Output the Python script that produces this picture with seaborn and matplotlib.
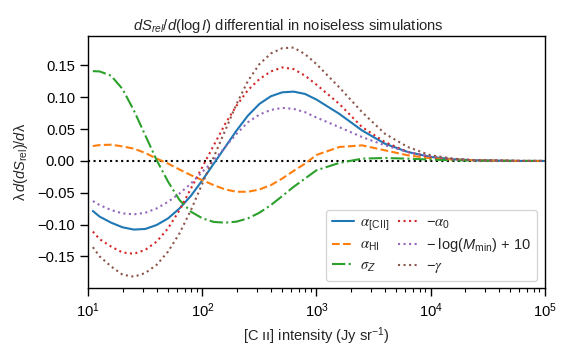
import numpy as np
import pandas as pd
import matplotlib
matplotlib.use("Agg")
import matplotlib.pyplot as plt
from matplotlib.ticker import LogLocator, NullFormatter
import seaborn as sns

log_intensity = [1.04, 1.1, 1.2, 1.3, 1.4, 1.5, 1.6, 1.7, 1.8, 1.9, 2.0, 2.1, 2.2, 2.3, 2.4,
                 2.5, 2.6, 2.7, 2.8, 2.9, 3.0, 3.2, 3.4, 3.6, 3.8, 4.0, 4.2, 4.4, 4.6, 4.8, 5.0]

alpha_cii = [-0.0786, -0.0875, -0.0969, -0.1042, -0.1078, -0.1068, -0.1005, -0.0901, -0.0745,
             -0.0547, -0.0302, -0.0042, 0.0219, 0.0479, 0.0714, 0.0896, 0.1016, 0.1078, 0.1089,
             0.1052, 0.0964, 0.0740, 0.0479, 0.0271, 0.0141, 0.0063, 0.0026, 0.0010, 0.0005, 0.0, 0.0]
alpha_hi = [0.0234, 0.0250, 0.0255, 0.0229, 0.0193, 0.0125, 0.0036, -0.0042, -0.0135, -0.0224,
            -0.0302, -0.0380, -0.0448, -0.0484, -0.0484, -0.0448, -0.0380, -0.0276, -0.0156,
            -0.0042, 0.0094, 0.0219, 0.0245, 0.0167, 0.0089, 0.0042, 0.0021, 0.0010, 0.0005, 0.0, 0.0]
sigma_z = [0.1411, 0.1406, 0.1339, 0.1130, 0.0792, 0.0401, 0.0010, -0.0328, -0.0615, -0.0797,
           -0.0901, -0.0958, -0.0969, -0.0953, -0.0901, -0.0813, -0.0693, -0.0552, -0.0406,
           -0.0276, -0.0146, -0.0031, 0.0036, 0.0047, 0.0036, 0.0021, 0.0010, 0.0005, 0.0, 0.0, 0.0]
neg_alpha0 = [-0.1109, -0.1229, -0.1344, -0.1438, -0.1458, -0.1396, -0.1266, -0.1057, -0.0771,
              -0.0432, -0.0094, 0.0245, 0.0583, 0.0870, 0.1115, 0.1286, 0.1406, 0.1469, 0.1443,
              0.1339, 0.1198, 0.0896, 0.0531, 0.0297, 0.0141, 0.0063, 0.0026, 0.0010, 0.0005, 0.0, 0.0]
neg_logmmin = [-0.0630, -0.0693, -0.0771, -0.0823, -0.0839, -0.0813, -0.0745, -0.0641, -0.0510,
               -0.0354, -0.0172, 0.0010, 0.0219, 0.0427, 0.0609, 0.0729, 0.0802, 0.0833, 0.0818,
               0.0766, 0.0682, 0.0531, 0.0375, 0.0245, 0.0141, 0.0073, 0.0031, 0.0010, 0.0005, 0.0, 0.0]
neg_gamma = [-0.1354, -0.1500, -0.1656, -0.1786, -0.1818, -0.1760, -0.1630, -0.1422, -0.1135,
             -0.0771, -0.0354, 0.0063, 0.0479, 0.0896, 0.1260, 0.1521, 0.1688, 0.1771, 0.1781,
             0.1677, 0.1521, 0.1156, 0.0766, 0.0427, 0.0219, 0.0089, 0.0036, 0.0010, 0.0005, 0.0, 0.0]

labels = [r"$\mathcal{\alpha}_{\rm [C\,II]}$", r"$\mathcal{\alpha}_{\rm HI}$", r"$\mathcal{\sigma}_Z$",
          r"$-\mathcal{\alpha}_0$", r"$-\;\log(M_{\rm min})\,+\,10$", r"$-\mathcal{\gamma}$"]

sns.set_style("ticks")
plt.rcParams["font.family"] = ["Liberation Sans", "DejaVu Sans"]
plt.rcParams["mathtext.fontset"] = "custom"
plt.rcParams["mathtext.rm"] = "Liberation Sans"
plt.rcParams["mathtext.it"] = "Liberation Sans:italic"
plt.rcParams["mathtext.bf"] = "Liberation Sans:bold"
plt.rcParams["mathtext.cal"] = "STIXGeneral:italic"
plt.rcParams["xtick.direction"] = "out"
plt.rcParams["ytick.direction"] = "out"

intensity = [10 ** v for v in log_intensity]
series = [alpha_cii, alpha_hi, sigma_z, neg_alpha0, neg_logmmin, neg_gamma]
pal = sns.color_palette("tab10")
colors = [pal[0], pal[1], pal[2], pal[3], pal[4], pal[5]]
styles = ["-", "--", "-.", ":", ":", ":"]

fig = plt.figure(figsize=(5.77, 3.54), dpi=100)
ax = fig.add_axes([0.153, 0.186, 0.791, 0.712])

for vals, lab, c, ls in zip(series, labels, colors, styles):
    df = pd.DataFrame({"I": intensity, "v": vals})
    sns.lineplot(data=df, x="I", y="v", ax=ax, color=c, linestyle=ls, lw=1.5, label=lab)

ax.axhline(0, color="k", ls=":", lw=1.5, zorder=0)
ax.set_xscale("log")
ax.set_xlim(10, 1e5)
ax.xaxis.set_minor_locator(LogLocator(base=10, subs=np.arange(2, 10), numticks=20))
ax.xaxis.set_minor_formatter(NullFormatter())
ax.set_yticks([-0.15, -0.10, -0.05, 0.0, 0.05, 0.10, 0.15])
ax.set_yticklabels(["\u22120.15", "\u22120.10", "\u22120.05", "0.00", "0.05", "0.10", "0.15"])
ax.set_xlabel("[C \u0131\u0131] intensity (Jy sr$^{-1}$)", fontsize=10.5)
ax.set_ylabel(r"$\mathrm{\lambda}\, d(dS_{\rm rel})/d\mathrm{\lambda}$", fontsize=10.5, labelpad=5)
fig.suptitle(r"$dS_{rel}/d(\log I)$ differential in noiseless simulations", fontsize=10.6,
             x=0.5, y=0.952)
for s in ax.spines.values():
    s.set_visible(True)
    s.set_color("k")
    s.set_linewidth(1.0)
ax.tick_params(which="major", labelsize=10.6, colors="k", length=6, width=1.0)
ax.tick_params(which="minor", colors="k", length=3, width=0.8)
ax.legend(ncol=2, loc="lower right", fontsize=10.5, handlelength=1.5, columnspacing=0.6,
          handletextpad=0.4, labelspacing=0.35, borderpad=0.4)
fig.savefig("out.png", dpi=100)
